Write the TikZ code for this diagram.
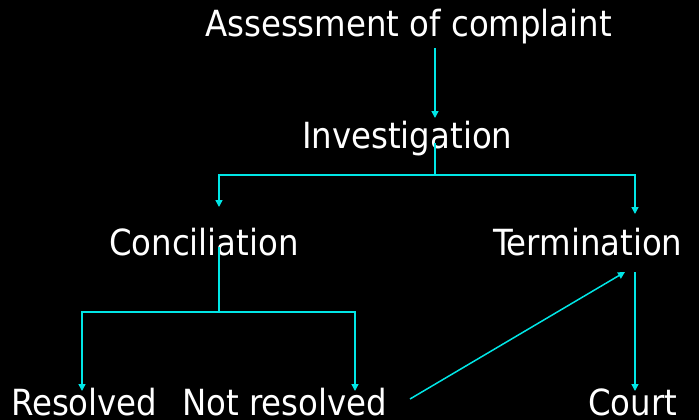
\documentclass[tikz,border=0pt]{standalone}
\usepackage{fontspec}
\setmainfont{DejaVu Sans Condensed}
\usetikzlibrary{arrows.meta}
\definecolor{linecyan}{RGB}{0,230,230}
\begin{document}
\begin{tikzpicture}[x=1pt,y=-1pt,
    label/.style={text=white,anchor=base west,inner sep=0pt,font=\fontsize{36}{42}\selectfont},
    flow/.style={draw=linecyan,line width=1.5pt,-{Triangle[length=7pt,width=7pt]}}]
    \fill[black] (0,0) rectangle (699,420);
    \useasboundingbox (0,0) rectangle (699,420);
    \node[label] (Assessment) at (205,37) {Assessment of complaint};
    \node[label] (Investigation) at (302,148) {Investigation};
    \node[label] (Conciliation) at (109,255) {Conciliation};
    \node[label] (Termination) at (493,255) {Termination};
    \node[label] (Resolved) at (11,415) {Resolved};
    \node[label] (NotResolved) at (182,415) {Not resolved};
    \node[label] (Court) at (588,415) {Court};
    \path [flow] ([xshift=230pt,yshift=-11pt]Assessment.base west) -- ([xshift=133pt,yshift=30pt]Investigation.base west);
    \path [flow] ([xshift=133pt,yshift=5pt]Investigation.base west) -- ++(0,32) coordinate (InvFork) -| ([xshift=110pt,yshift=48pt]Conciliation.base west);
    \path [flow] (InvFork) -| ([xshift=142pt,yshift=41pt]Termination.base west);
    \path [flow] ([xshift=110pt,yshift=8pt]Conciliation.base west) -- ++(0,65) coordinate (ConFork) -| ([xshift=71pt,yshift=24pt]Resolved.base west);
    \path [flow] (ConFork) -| ([xshift=173pt,yshift=24pt]NotResolved.base west);
    \path [flow] ([xshift=228pt,yshift=16pt]NotResolved.base west) -- ([xshift=132pt,yshift=-17pt]Termination.base west);
    \path [flow] ([xshift=142pt,yshift=-17pt]Termination.base west) -- ([xshift=47pt,yshift=24pt]Court.base west);
\end{tikzpicture}
\end{document}
